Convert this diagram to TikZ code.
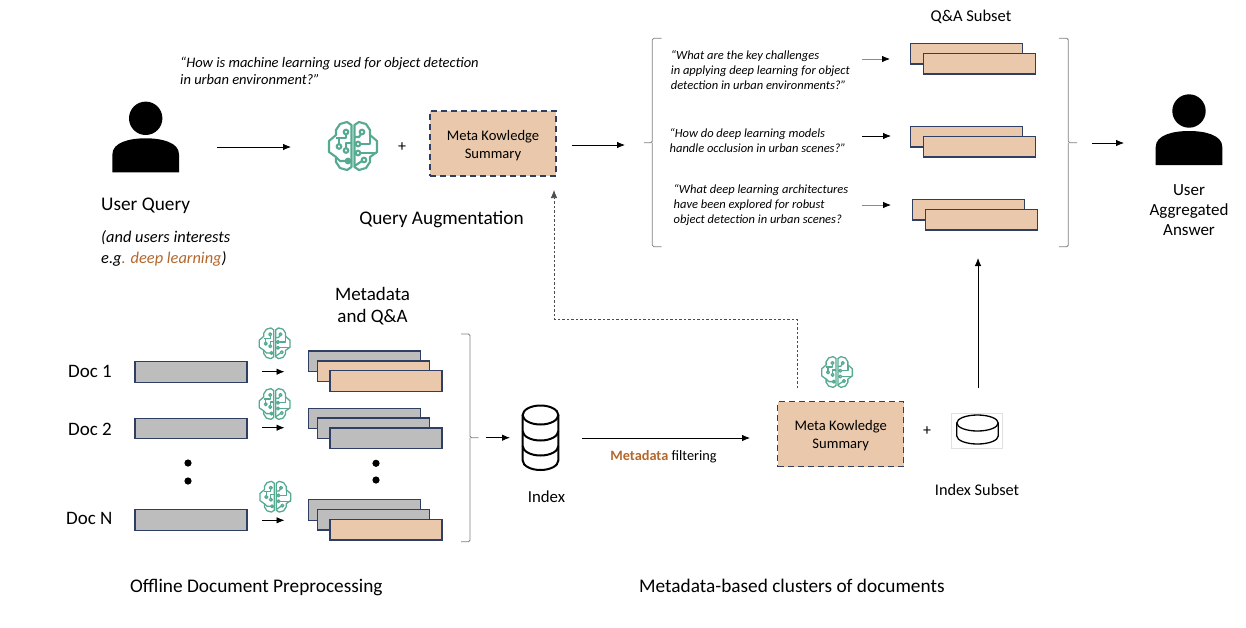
\documentclass[tikz,border=0pt]{standalone}
\usepackage{fontspec}
\setmainfont{Carlito}
\usetikzlibrary{arrows.meta,calc}
\definecolor{peach}{HTML}{EAC8AB}
\definecolor{navy}{HTML}{2F3E63}
\definecolor{slab}{HTML}{BDBDBD}
\definecolor{teal2}{HTML}{55AA90}
\definecolor{rust}{HTML}{B5672B}
\definecolor{brk}{HTML}{7F7F7F}
\newcommand{\fs}[2]{\fontsize{#1}{#2}\selectfont}
\newcommand{\dn}[1]{\raisebox{-2pt}[\height][\depth]{#1}}
\tikzset{
  x=1pt,y=-1pt,
  conn/.style={draw=black,line width=.8pt,-{Latex[length=8pt,width=6.5pt]}},
  dashconn/.style={draw=black!70,line width=.7pt,dash pattern=on 2.5pt off 2pt,-{Latex[length=8pt,width=6.5pt]}},
  brk/.style={draw=brk,line width=.8pt,rounded corners=1.5pt},
  slabbox/.style={draw=navy,line width=1.4pt,inner sep=0,minimum width=112pt,minimum height=20.5pt},
  gbox/.style={slabbox,fill=slab},
  pbox/.style={slabbox,fill=peach},
  meta/.style={draw=navy,line width=1.3pt,dash pattern=on 6pt off 4pt,fill=peach,inner sep=0,
     minimum width=126pt,minimum height=65pt,align=center,font=\fs{14.6}{18}},
  lab/.style={inner sep=0,font=\fs{19.3}{21},align=center},
  qtext/.style={inner sep=0,anchor=west,align=left,font=\fs{12.5}{15}\itshape},
  slot/.style={inner sep=0,minimum width=30pt,minimum height=30pt},
  pics/brain/.style={code={
    \begin{scope}[draw=teal2,line width=#1,line join=round]
      \draw (-1.5,-21)--(-6,-24)--(-13,-22)--(-17,-16)--(-17,-11)--(-24,-5)--(-24,6)--(-17,11)--(-17,16)--(-13,22)--(-6,24)--(-1.5,21)--cycle;
      \draw (1.5,-21)--(6,-24)--(13,-22)--(17,-16)--(17,-11)--(24,-5)--(24,6)--(17,11)--(17,16)--(13,22)--(6,24)--(1.5,21)--cycle;
      \draw (-7,-12)--(-7,-8)--(-17,-8)  (-14,-1.5)--(-14,-8);
      \draw (-1.5,-3)--(-7,-3)--(-7,2);
      \draw (-3,15)--(-13,15)--(-17,11);
      \draw (1.5,-9)--(6,-9)--(8,-12);
      \draw (1.5,-2)--(3,-2) (7.5,7)--(24,7) (1.5,7)--(3,7) (7.5,-2)--(17,-2)--(17,-11);
      \draw (9,15)--(1.5,20);
      \draw (-7,-14) circle (2.3) (-14,0.5) circle (2.3) (-7,4.5) circle (2.3) (-5,15) circle (2.3);
      \draw (9,-14) circle (2.3) (5,-2) circle (2.3) (5,7) circle (2.3) (11,14) circle (2.3);
    \end{scope}
  }},
  pics/person/.style={code={
    \fill[black] (0,0) circle (16.7);
    \fill[black] (-33.3,54) -- (-33.3,36) .. controls (-33.3,24) and (-16,20) .. (0,20)
       .. controls (16,20) and (33.3,24) .. (33.3,36) -- (33.3,54) -- cycle;
  }},
}
\begin{document}
\begin{tikzpicture}
\useasboundingbox (0,0) rectangle (1246,627);

% --- persons
\node[slot,minimum width=67pt,minimum height=72pt] (userA) at (145.7,136) {};
\pic at (145.7,118.3) {person};
\node[slot,minimum width=67pt,minimum height=72pt] (userB) at (1189,129) {};
\pic[scale=1] at (1189,111) {person};

% --- top row
\node[qtext,font=\fs{14.5}{17}\itshape] (qmain) at (180,70.5) {“How is machine learning used for object detection\\in urban environment?”};
\node[lab,anchor=west] (ulabel) at (101,206) {User Query};
\node[inner sep=0,anchor=west,align=left,font=\fs{16.4}{21}\itshape] (interest) at (101,248.5) {(and users interests\\e.g\textcolor{rust}{. deep learning})};
\node[slot,minimum width=48pt,minimum height=49pt] (brainA) at (353,146.5) {};
\pic at (353,146) {brain=2.1pt};
\node[inner sep=0,font=\fs{16}{18}] (plusA) at (402,147) {+};
\node[meta] (metaA) at (493,143.5) {\dn{Meta Kowledge}\\\dn{Summary}};
\node[lab] (qaug) at (441.5,219.5) {Query Augmentation};

% --- left bracket and questions
\coordinate (brLtip) at (644,142.7);
\coordinate (brRtip) at (1077,142.7);
\draw[brk] (661.7,38.3) -- (652.3,38.3) -- (652.3,142.7) -- (brLtip);
\draw[brk] (661.7,246.7) -- (652.3,246.7) -- (652.3,142.7);
\draw[brk] (1059,38.3) -- (1068.3,38.3) -- (1068.3,142.7) -- (brRtip);
\draw[brk] (1059,246.7) -- (1068.3,246.7) -- (1068.3,142.7);

\node[qtext] (q1) at (670.7,70) {“What are the key challenges\\in applying deep learning for object\\detection in urban environments?”};
\node[qtext] (q2) at (669.5,140.5) {“How do deep learning models\\handle occlusion in urban scenes?”};
\node[qtext] (q3) at (673.5,205) {“What deep learning architectures\\have been explored for robust\\object detection in urban scenes?};

\node[lab,font=\fs{16.5}{20}] (qasub) at (971,17) {Q\&A Subset};

\node[pbox] (s1a) at (966.5,53.8) {};
\node[pbox] (s1b) at (979.2,63.7) {};
\node[pbox] (s2a) at (966.5,136.7) {};
\node[pbox] (s2b) at (979.2,146.8) {};
\node[pbox] (s3a) at (968.7,209.8) {};
\node[pbox] (s3b) at (981.7,219.6) {};

\coordinate (q1out) at (862,59);
\coordinate (q2out) at (862,136);
\coordinate (q3out) at (862,205);
\coordinate (q1in) at (890,59);
\coordinate (q2in) at (891,136);
\coordinate (q3in) at (891,205);
\draw[conn,draw=black!45,-{Latex[length=8pt,width=6.5pt,black]}] (q1out) -- (q1in);
\draw[conn] (q2out) -- (q2in);
\draw[conn,draw=black!45,-{Latex[length=8pt,width=6.5pt,black]}] (q3out) -- (q3in);

\node[lab,font=\fs{17}{20}] (ans) at (1189,210) {User\\Aggregated\\Answer};

% --- docs
\node[lab,anchor=west,font=\fs{19}{20}] (d1) at (68,371.5) {Doc 1};
\node[lab,anchor=west,font=\fs{19}{20}] (d2) at (68,429) {Doc 2};
\node[lab,anchor=west,font=\fs{19}{20}] (dn) at (66,518.5) {Doc N};
\node[gbox] (r1) at (191,372) {};
\node[gbox] (r2) at (191,428.5) {};
\node[gbox] (rn) at (191,520) {};
\fill[black] (188,463) circle (3.6) (188,481) circle (3.6);

\node[slot] (b1) at (274.7,343.3) {};
\pic[scale=.64] at (274.7,343.3) {brain=1.3pt};
\node[slot] (b2) at (274.7,404) {};
\pic[scale=.64] at (274.7,404) {brain=1.3pt};
\node[slot] (b3) at (275.3,496.7) {};
\pic[scale=.64] at (275.3,496.7) {brain=1.3pt};

\node[lab,font=\fs{19}{22}] (mdq) at (372.5,306) {Metadata\\and Q\&A};

\node[gbox] (a1) at (364.7,361.3) {};
\node[pbox] (a2) at (373.3,371.3) {};
\node[pbox] (a3) at (386,381) {};
\node[gbox] (c1) at (364.7,418.5) {};
\node[gbox] (c2) at (373.3,428.3) {};
\node[gbox] (c3) at (386,438.3) {};
\node[gbox] (e1) at (364.7,510) {};
\node[gbox] (e2) at (373.3,519.8) {};
\node[pbox] (e3) at (386,529.6) {};
\fill[black] (376,463.3) circle (3.6) (376,480) circle (3.6);

\coordinate (o1) at (262,371.7);
\coordinate (o2) at (262,427.7);
\coordinate (o3) at (262,520.3);
\coordinate (t1) at (284.5,371.7);
\coordinate (t2) at (284.5,427.7);
\coordinate (t3) at (284.5,520.3);
\draw[conn] (o1) -- (t1);
\draw[conn] (o2) -- (t2);
\draw[conn] (o3) -- (t3);

% --- second bracket
\coordinate (brMtip) at (478.7,437.7);
\draw[brk] (461,334) -- (470,334) -- (470,437.7) -- (brMtip);
\draw[brk] (461,541.7) -- (470,541.7) -- (470,437.7);

% --- index cylinder
\node[slot,minimum width=36pt,minimum height=66pt] (db) at (540.5,438) {};
\begin{scope}[draw=black,line width=2pt]
  \draw (540.5,415) ellipse [x radius=17.8,y radius=9.5];
  \draw (522.7,415) -- (522.7,460.5) arc[start angle=180,end angle=0,x radius=17.8,y radius=9.5] -- (558.3,415);
  \draw (522.7,431) arc[start angle=180,end angle=0,x radius=17.8,y radius=9.5];
  \draw (522.7,446) arc[start angle=180,end angle=0,x radius=17.8,y radius=9.5];
\end{scope}
\node[lab,font=\fs{16.8}{18}] (idx) at (546.5,497) {Index};

\coordinate (dbout) at (582,438);
\coordinate (metain) at (750,438);
\draw[conn] (dbout) -- (metain);
\node[inner sep=0,font=\fs{14.3}{16}] (mf) at (663.5,457) {\textcolor{rust}{\textbf{Metadata}} filtering};

% --- bottom meta
\node[meta] (metaB) at (840.7,434) {\dn{Meta Kowledge}\\\dn{Summary}};
\node[slot] (brainB) at (837,372) {};
\pic[scale=.64] at (837,372) {brain=1.3pt};
\node[inner sep=0,font=\fs{16}{18}] (plusB) at (927,431) {+};

\node[draw=black!12,fill=white,line width=.8pt,inner sep=0,minimum width=50.5pt,minimum height=35pt] (dbs) at (977,430.5) {};
\begin{scope}[draw=black,line width=1.3pt]
  \draw (977.5,423) ellipse [x radius=20.7,y radius=8];
  \draw (956.8,423) -- (956.8,436) arc[start angle=180,end angle=0,x radius=20.7,y radius=8] -- (998.2,423);
\end{scope}
\node[lab,font=\fs{16.3}{18}] (idxs) at (977,490) {Index Subset};

% --- footers
\node[lab,anchor=west] (off) at (130,588) {Offline Document Preprocessing};
\node[lab,anchor=west] (clu) at (639,586) {Metadata-based clusters of documents};

% --- connectors
\coordinate (uaOut) at (217,147);
\coordinate (baIn) at (291,147);
\draw[conn] (uaOut) -- (baIn);
\coordinate (maOut) at (572,145);
\coordinate (brLin) at (625,145);
\draw[conn] (maOut) -- (brLin);
\coordinate (brRout) at (1092,143);
\coordinate (ubIn) at (1124,143);
\draw[conn] (brRout) -- (ubIn);
\coordinate (brMout) at (485.7,437.7);
\coordinate (dbIn) at (510,437.7);
\draw[conn] (brMout) -- (dbIn);
\coordinate (mbOut) at (797,388);
\coordinate (maIn) at (554,190);
\draw[dashconn] (mbOut) -- (797,319) -- (554,319) -- (maIn);
\coordinate (dsOut) at (978,388);
\coordinate (qaIn) at (978,258);
\draw[conn] (dsOut) -- (qaIn);
\end{tikzpicture}
\end{document}
